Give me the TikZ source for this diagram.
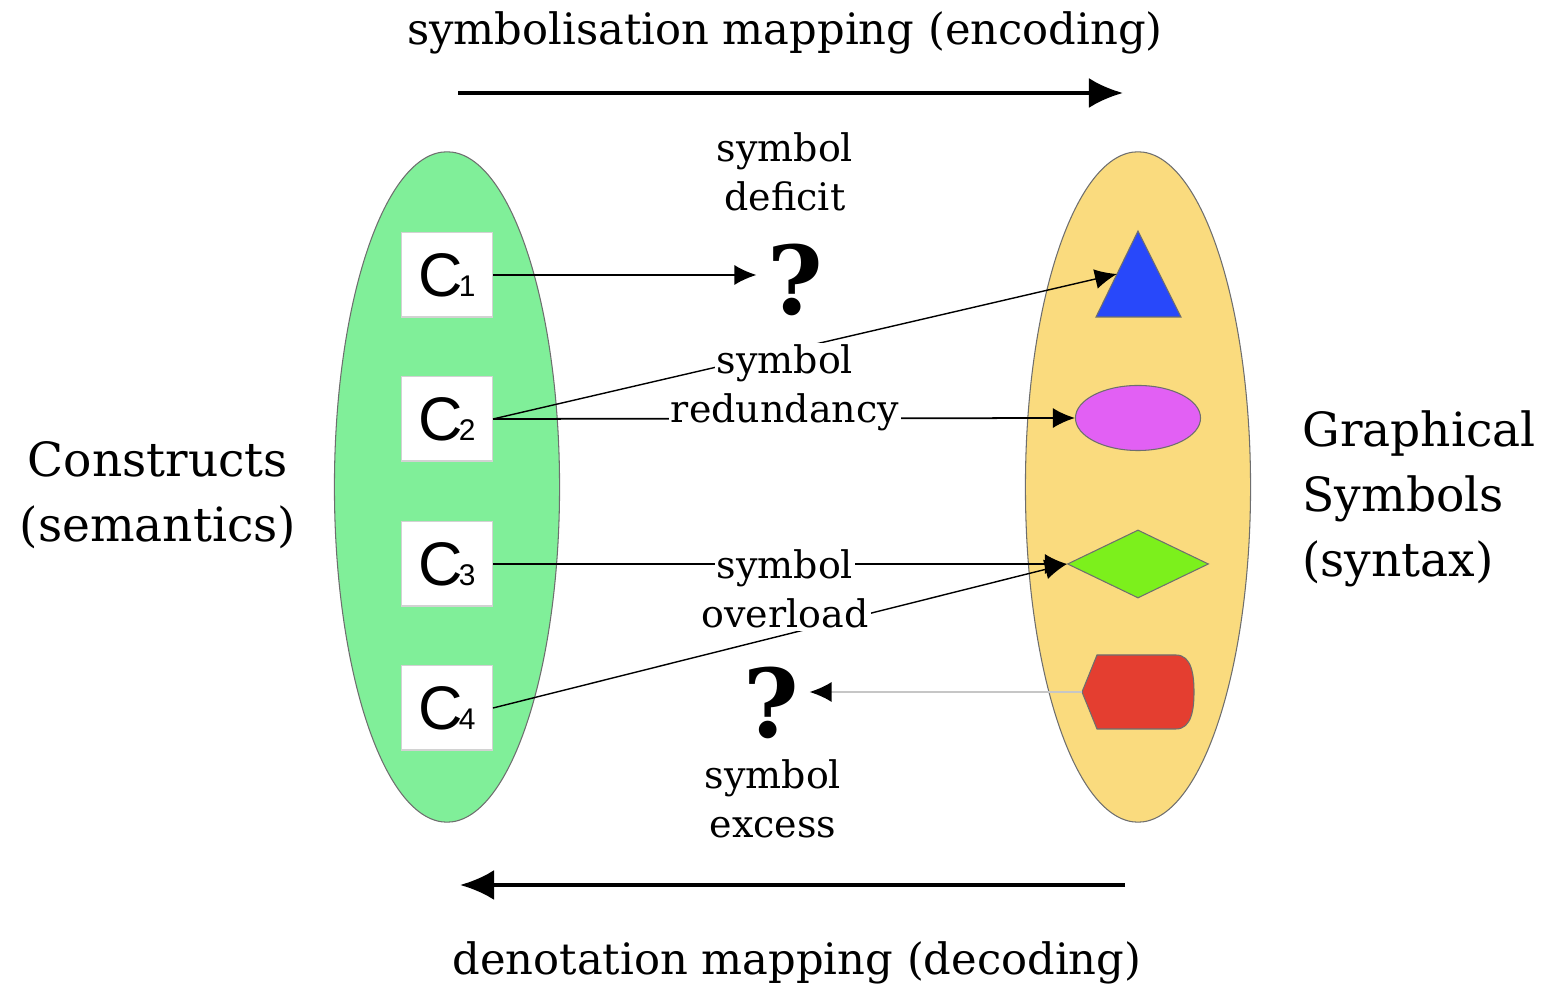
\documentclass[tikz,border=0pt]{standalone}
\usepackage{fontspec}
\setmainfont{DejaVu Serif}
\setsansfont{Liberation Sans}
\usetikzlibrary{shapes.geometric, arrows.meta}

\definecolor{constructgreen}{RGB}{128,239,153}
\definecolor{symbolyellow}{RGB}{250,219,126}
\definecolor{triblue}{RGB}{40,72,250}
\definecolor{ovalpink}{RGB}{226,96,244}
\definecolor{gemgreen}{RGB}{124,240,28}
\definecolor{hexred}{RGB}{228,62,48}
\definecolor{rimgray}{RGB}{110,110,110}

\newcommand{\cname}[1]{\sffamily\fontsize{17.5}{17}\selectfont C\kern-1.2pt{\fontsize{8.5}{9}\selectfont #1}}

\begin{document}
\begin{tikzpicture}[
        x                 = 0.01cm,
        y                 = -0.01cm,
        every node/.style = {font=\fontsize{10.8}{13.9}\selectfont},
        group/.style      = {ellipse, draw=rimgray, line width=0.3pt, minimum width=2.25cm, minimum height=6.7cm},
        construct/.style  = {draw=gray!35, line width=0.3pt, fill=white, minimum width=0.91cm, minimum height=0.84cm, inner sep=0pt},
        link/.style       = {draw, line width=0.5pt, -{Latex[length=0.22cm, width=0.2cm, color=black]}},
        mapping/.style    = {draw, line width=1.2pt, -{Latex[length=0.34cm, width=0.3cm]}},
        gap/.style        = {fill=white, inner sep=0.6pt, anchor=base},
        big/.style        = {font=\fontsize{13.4}{18.4}\selectfont},
        heading/.style    = {font=\fontsize{12.3}{14}\selectfont},
        query/.style      = {font=\bfseries\fontsize{27}{27}\selectfont, inner sep=0pt},
    ]
    \useasboundingbox (0,0) rectangle (1541,992);

    \node[group, fill=constructgreen] (constructs) at (447,487) {};
    \node[group, fill=symbolyellow]  (symbols)    at (1138,487) {};

    \node[construct] (c1) at (447,275) {\cname{1}};
    \node[construct] (c2) at (447,419) {\cname{2}};
    \node[construct] (c3) at (447,564) {\cname{3}};
    \node[construct] (c4) at (447,708) {\cname{4}};

    \filldraw[fill=triblue, draw=rimgray, line width=0.3pt] (1138,231) -- (1181,317) -- (1096,317) -- cycle;
    \coordinate (triSide) at (1117,274);
    \node[ellipse, fill=ovalpink, draw=rimgray, line width=0.3pt, minimum width=1.25cm, minimum height=0.65cm] (oval) at (1138,418) {};
    \node[diamond, fill=gemgreen, draw=rimgray, line width=0.3pt, inner sep=0pt, minimum width=1.41cm, minimum height=0.68cm] (gem) at (1138,564) {};
    \filldraw[fill=hexred, draw=rimgray, line width=0.3pt] (1097,655) -- (1176,655) to[out=0, in=90] (1194,692)
        to[out=-90, in=0] (1176,729) -- (1097,729) -- (1082,692) -- cycle;
    \coordinate (hexTip) at (1082,692);

    \node[query] (q1) at (795,280) {?};
    \node[query] (q2) at (771,703) {?};

    \draw[link, shorten >=0.1cm] (c1.east) -- (c1.east -| q1.west);
    \draw[link, line width=0.4pt] (c2.east) -- (triSide);
    \draw[link] (c2.east) -- (oval.west);
    \draw[link] (c3.east) -- (gem.west);
    \draw[link, line width=0.4pt] (c4.east) -- (gem.west);
    \draw[link, draw=gray!45, shorten >=0.1cm] (hexTip) -- (hexTip -| q2.east);

    \node[align=center] (deficit) at (785,172) {symbol\\deficit};
    \node[gap] (redundancyTop) at (785,374) {symbol};
    \node[gap] (redundancy)    at (785,423) {redundancy};
    \node[gap] (overloadTop)   at (785,579) {symbol};
    \node[gap] (overload)      at (785,628) {overload};
    \node[align=center] (excess) at (773,799) {symbol\\excess};

    \node[big, align=center] (semantics) at (158,495) {Constructs\\(semantics)};
    \node[big, align=left, anchor=west] (syntax) at (1290,499) {Graphical\\Symbols\\(syntax)};

    \coordinate (encStart) at (458,93);
    \coordinate (encEnd)   at (1123,93);
    \coordinate (decStart) at (1125,885);
    \coordinate (decEnd)   at (460,885);
    \draw[mapping] (encStart) -- (encEnd);
    \draw[mapping] (decStart) -- (decEnd);
    \node[heading] (encoding) at (785,33)  {symbolisation mapping (encoding)};
    \node[heading] (decoding) at (797,963) {denotation mapping (decoding)};
\end{tikzpicture}
\end{document}
